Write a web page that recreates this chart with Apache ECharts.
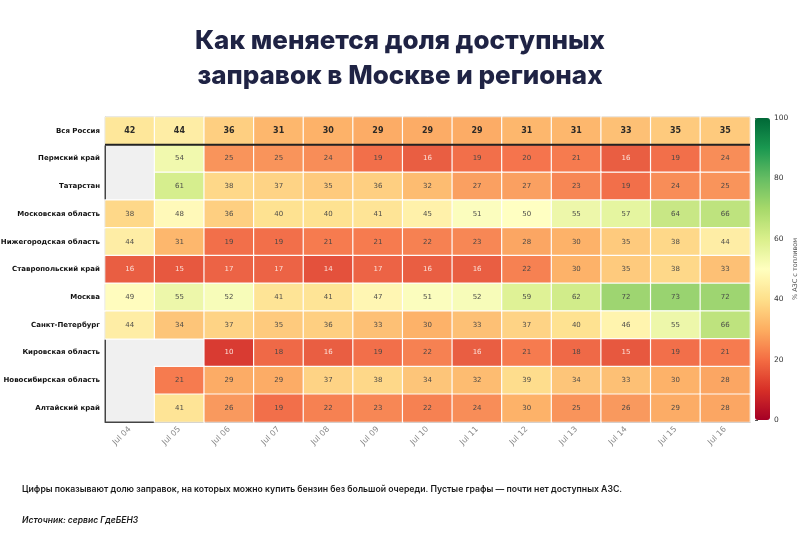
<!DOCTYPE html>
<html>
<head>
<meta charset="utf-8">
<script src="https://cdn.jsdelivr.net/npm/echarts@6/dist/echarts.min.js"></script>
<style>
  html, body { margin: 0; padding: 0; background: #fff; }
  #diagram { width: 800px; height: 540px; }
</style>
</head>
<body>
<div id="diagram"></div>
<script>
var days = ["Jul 04", "Jul 05", "Jul 06", "Jul 07", "Jul 08", "Jul 09", "Jul 10",
            "Jul 11", "Jul 12", "Jul 13", "Jul 14", "Jul 15", "Jul 16"];
var regions = ["Вся Россия", "Пермский край", "Татарстан", "Московская область",
               "Нижегородская область", "Ставропольский край", "Москва",
               "Санкт-Петербург", "Кировская область", "Новосибирская область",
               "Алтайский край"];

// null = почти нет доступных АЗС (пустая графа)
var allRussia   = [42, 44, 36, 31, 30, 29, 29, 29, 31, 31, 33, 35, 35];
var perm        = [null, 54, 25, 25, 24, 19, 16, 19, 20, 21, 16, 19, 24];
var tatarstan   = [null, 61, 38, 37, 35, 36, 32, 27, 27, 23, 19, 24, 25];
var moscowObl   = [38, 48, 36, 40, 40, 41, 45, 51, 50, 55, 57, 64, 66];
var nizhny      = [44, 31, 19, 19, 21, 21, 22, 23, 28, 30, 35, 38, 44];
var stavropol   = [16, 15, 17, 17, 14, 17, 16, 16, 22, 30, 35, 38, 33];
var moscow      = [49, 55, 52, 41, 41, 47, 51, 52, 59, 62, 72, 73, 72];
var spb         = [44, 34, 37, 35, 36, 33, 30, 33, 37, 40, 46, 55, 66];
var kirov       = [null, null, 10, 18, 16, 19, 22, 16, 21, 18, 15, 19, 21];
var novosibirsk = [null, 21, 29, 29, 37, 38, 34, 32, 39, 34, 33, 30, 28];
var altai       = [null, 41, 26, 19, 22, 23, 22, 24, 30, 25, 26, 29, 28];

var rows = [allRussia, perm, tatarstan, moscowObl, nizhny, stavropol,
            moscow, spb, kirov, novosibirsk, altai];

var rdYlGn = ["#a50026", "#d73027", "#f46d43", "#fdae61", "#fee08b", "#ffffbf",
              "#d9ef8b", "#a6d96a", "#66bd63", "#1a9850", "#006837"];

var data = [];
rows.forEach(function (r, yi) {
  r.forEach(function (v, xi) {
    if (v !== null) data.push([xi, yi, v]);
  });
});

var gridTop = 117, gridBottom = 118, gridLeft = 105, gridRight = 50;
var plotH = 540 - gridTop - gridBottom;
var sepY = gridTop + plotH / regions.length;

var myChart = echarts.init(document.getElementById("diagram"));
var option = {
  animation: false,
  textStyle: { fontFamily: "DejaVu Sans" },
  title: {
    text: "Как меняется доля доступных\nзаправок в Москве и регионах",
    left: "center",
    top: 19,
    textStyle: {
      fontFamily: "Inter",
      fontWeight: 800,
      fontSize: 26,
      lineHeight: 35,
      color: "#1f2344"
    }
  },
  grid: [
    {
      left: gridLeft, right: gridRight, top: gridTop, bottom: gridBottom,
      outerBoundsMode: "none",
      show: true, backgroundColor: "#f0f0f0", borderColor: "#444", borderWidth: 1
    },
    { left: 755, width: 15, top: 118, height: 302, outerBoundsMode: "none" }
  ],
  xAxis: [
    {
      type: "category", data: days, gridIndex: 0,
      axisLine: { lineStyle: { color: "#444" } },
      axisTick: { show: false },
      axisLabel: { rotate: 45, fontSize: 8, color: "#888", margin: 6, interval: 0 },
      splitArea: { show: false }
    },
    { type: "value", gridIndex: 1, show: false, min: 0, max: 1 }
  ],
  yAxis: [
    {
      type: "category", data: regions, gridIndex: 0, inverse: true,
      axisLine: { lineStyle: { color: "#444" } },
      axisTick: { show: false },
      axisLabel: { fontSize: 7, fontWeight: "bold", color: "#111", margin: 5, interval: 0 }
    },
    {
      type: "value", gridIndex: 1, position: "right", min: 0, max: 100, interval: 20,
      axisLine: { show: false },
      axisTick: { show: true, length: 3, lineStyle: { color: "#555" } },
      axisLabel: { fontSize: 7.5, color: "#333", margin: 4 },
      splitLine: { show: false },
      name: "% АЗС с топливом", nameLocation: "middle", nameRotate: 90, nameGap: 21,
      nameTextStyle: { fontSize: 6.5, color: "#555" }
    }
  ],
  visualMap: {
    type: "continuous",
    min: 0, max: 100,
    seriesIndex: 0,
    calculable: false,
    showLabel: false,
    text: ["", ""],
    itemWidth: 15, itemHeight: 302,
    left: 755, top: 118,
    padding: 0,
    inRange: { color: rdYlGn }
  },
  series: [
    {
      type: "heatmap",
      xAxisIndex: 0, yAxisIndex: 0,
      data: data,
      itemStyle: { borderColor: "#fff", borderWidth: 1.2, opacity: 0.95 },
      label: {
        show: true,
        formatter: function (p) { return p.value[2]; },
        fontSize: 7
      }
    }
  ],
  graphic: [
    {
      type: "line", z: 100,
      shape: { x1: gridLeft, y1: sepY, x2: 800 - gridRight, y2: sepY },
      style: { stroke: "#222", lineWidth: 2 }
    },
    {
      type: "text", left: 22, top: 485,
      style: {
        text: "Цифры показывают долю заправок, на которых можно купить бензин без большой очереди. Пустые графы — почти нет доступных АЗС.",
        font: "600 8.7px Inter", fill: "#1a1a1a"
      }
    },
    {
      type: "text", left: 22, top: 516,
      style: {
        text: "Источник: сервис ГдеБЕНЗ",
        font: "italic 600 8.5px Inter", fill: "#1a1a1a"
      }
    }
  ]
};

// подписи ячеек: верхний ряд жирный, тёмные ячейки — белый текст
option.series[0].data = data.map(function (d) {
  var lbl = { color: d[2] < 18 ? "#fde7e0" : "#444" };
  if (d[1] === 0) { lbl = { color: "#222", fontWeight: "bold", fontSize: 8 }; }
  return { value: d, label: lbl };
});

myChart.setOption(option);
</script>
</body>
</html>
